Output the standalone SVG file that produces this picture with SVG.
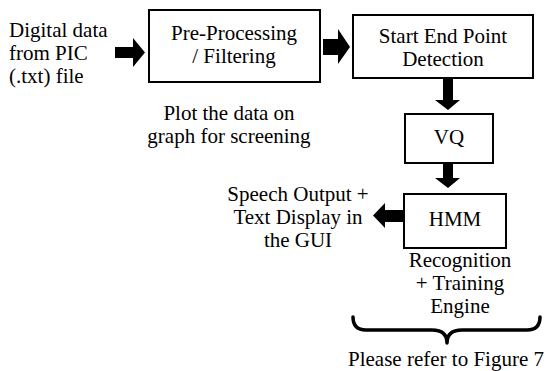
<svg xmlns="http://www.w3.org/2000/svg" width="547" height="371" viewBox="0 0 547 371">
  <style>
    .box { fill: #fff; stroke: #000; stroke-width: 2; }
    .t { font-family: 'Liberation Serif', 'DejaVu Serif', serif; font-size: 21px; fill: #000; }
    .c { text-anchor: middle; }
    .arrow { fill: #000; }
    .brace { fill: none; stroke: #000; stroke-width: 3.5; stroke-linecap: round; stroke-linejoin: round; }
  </style>
  <rect width="547" height="371" fill="#fff"/>

  <g font-family="Liberation Serif, DejaVu Serif, serif">
  <g id="input">
    <text class="t" x="9" y="37">Digital data</text>
    <text class="t" x="9" y="60">from PIC</text>
    <text class="t" x="9" y="83">(.txt) file</text>
  </g>

  <g id="preprocessing">
    <rect class="box" x="149" y="10" width="171" height="72"/>
    <text class="t c" x="234" y="40">Pre-Processing</text>
    <text class="t c" x="234" y="63">/ Filtering</text>
  </g>

  <g id="plot-note">
    <text class="t c" x="229" y="120">Plot the data on</text>
    <text class="t c" x="229" y="143">graph for screening</text>
  </g>

  <g id="endpoint">
    <rect class="box" x="353" y="15" width="180" height="63"/>
    <text class="t c" x="443" y="43">Start End Point</text>
    <text class="t c" x="443" y="66">Detection</text>
  </g>

  <g id="vq">
    <rect class="box" x="405" y="114" width="88" height="49"/>
    <text class="t c" x="449" y="144">VQ</text>
  </g>

  <g id="hmm">
    <rect class="box" x="404" y="194" width="102" height="54"/>
    <text class="t c" x="455" y="226">HMM</text>
  </g>

  <g id="output">
    <text class="t c" x="298" y="201">Speech Output +</text>
    <text class="t c" x="298" y="224">Text Display in</text>
    <text class="t c" x="298" y="247">the GUI</text>
  </g>

  <g id="engine">
    <text class="t c" x="460" y="267">Recognition</text>
    <text class="t c" x="460" y="290">+ Training</text>
    <text class="t c" x="460" y="313">Engine</text>
  </g>

  <g id="reference">
    <path class="brace" d="M353,317 Q353,330 366,330 L432,330 Q447,330 447,343 Q447,330 462,330 L527,330 Q540,330 540,317"/>
    <text class="t c" x="446" y="366">Please refer to Figure 7</text>
  </g>
  </g>

  <g id="connectors">
    <polygon class="arrow" points="115,47 133,47 133,38 145,52.5 133,67 133,58 115,58"/>
    <polygon class="arrow" points="323,39 338,39 338,29 350,47 338,64 338,55 323,55"/>
    <polygon class="arrow" points="443,79 453,79 453,100 460,100 448,110 435,100 443,100"/>
    <polygon class="arrow" points="443,163 453,163 453,178 460,178 448,188 435,178 443,178"/>
    <polygon class="arrow" points="403,210 385,210 385,203 373,215.5 385,228 385,222 403,222"/>
  </g>
</svg>
